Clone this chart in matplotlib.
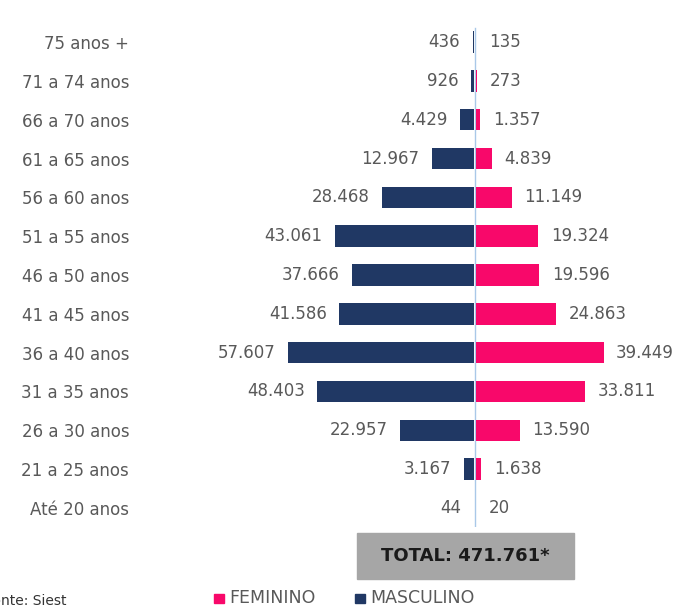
import matplotlib
matplotlib.use("Agg")
import matplotlib.pyplot as plt
from matplotlib.patches import Rectangle

# faixas etarias (top -> bottom)
faixas = ["75 anos +", "71 a 74 anos", "66 a 70 anos", "61 a 65 anos", "56 a 60 anos",
          "51 a 55 anos", "46 a 50 anos", "41 a 45 anos", "36 a 40 anos", "31 a 35 anos",
          "26 a 30 anos", "21 a 25 anos", "Até 20 anos"]
masculino = [436, 926, 4429, 12967, 28468, 43061, 37666, 41586, 57607, 48403, 22957, 3167, 44]
feminino = [135, 273, 1357, 4839, 11149, 19324, 19596, 24863, 39449, 33811, 13590, 1638, 20]
total_txt = "TOTAL: 471.761*"
fonte_txt = "Fonte: Siest"

NAVY = "#203864"
PINK = "#F8086A"
GREY_TXT = "#595959"

plt.rcParams['font.family'] = ['DejaVu Sans']

W, H = 684, 606
fig = plt.figure(figsize=(W / 100, H / 100), dpi=100)

# axes placed in pixel terms
px_per_unit = 3.235 / 1000
cx = 475
ax_left, ax_right = 150, 684
top_px, bot_px = 22.6, 527.4
ax = fig.add_axes([ax_left / W, 1 - bot_px / H, (ax_right - ax_left) / W, (bot_px - top_px) / H])
ax.set_xlim(-(cx - ax_left) / px_per_unit, (ax_right - cx) / px_per_unit)
ax.set_ylim(len(faixas) - 0.5, -0.5)

def fmt(v):
    return f"{v:,}".replace(",", ".")

ys = list(range(len(faixas)))
ax.barh(ys, [-m for m in masculino], height=0.55, color=NAVY, left=-300)
ax.barh(ys, feminino, height=0.55, color=PINK, left=300)
ax.axvline(0, color="#A9C8E8", lw=1.0, ymin=-0.02, ymax=0.99, zorder=0)

for y, m, f in zip(ys, masculino, feminino):
    ax.annotate(fmt(m), (-m - 300, y), xytext=(-9, 0), textcoords="offset points",
                ha="right", va="center", fontsize=12, color=GREY_TXT)
    ax.annotate(fmt(f), (f + 300, y), xytext=(9, 0), textcoords="offset points",
                ha="left", va="center", fontsize=12, color=GREY_TXT)

ax.set_yticks(ys)
ax.set_yticklabels(faixas, fontsize=12, color=GREY_TXT)
ax.tick_params(axis="y", length=0, pad=15)
ax.set_xticks([])
for s in ax.spines.values():
    s.set_visible(False)

# total box
fig.patches.append(Rectangle((357 / W, 1 - 579 / H), 217 / W, 46 / H,
                             transform=fig.transFigure, color="#A6A6A6", zorder=1))
fig.text(465 / W, 1 - 556 / H, total_txt, ha="center", va="center",
         fontsize=13, fontweight="bold", color="#1A1A1A")

# legend
fig.patches.append(Rectangle((214 / W, 1 - 603 / H), 10 / W, 9 / H,
                             transform=fig.transFigure, color=PINK))
fig.text(229 / W, 1 - 598 / H, "FEMININO", ha="left", va="center", fontsize=12.5, color=GREY_TXT)
fig.patches.append(Rectangle((355 / W, 1 - 603 / H), 10 / W, 9 / H,
                             transform=fig.transFigure, color=NAVY))
fig.text(370 / W, 1 - 598 / H, "MASCULINO", ha="left", va="center", fontsize=12.5, color=GREY_TXT)

# source, partly cut off at the left edge (as in the original)
fig.text(-15 / W, 1 - 601 / H, fonte_txt, ha="left", va="center", fontsize=10, color="#333333")

fig.savefig("out.png", dpi=100)
